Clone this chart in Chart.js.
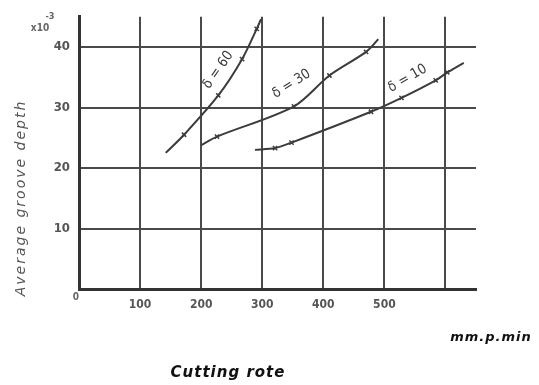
<!DOCTYPE html>
<html>
<head>
<meta charset="utf-8">
<script src="https://cdn.jsdelivr.net/npm/chart.js@4"></script>
<style>
  html, body { margin: 0; padding: 0; background: #fff; }
  #wrap { width: 539px; height: 385px; }
</style>
</head>
<body>
<div id="wrap"><canvas id="grooveChart"></canvas></div>
<script>
// values (cutting rate mm/min, groove depth x10^-3)
const delta60X = [142, 172, 228, 267, 291, 298];
const delta60Y = [22.5, 25.5, 32, 38, 43, 44.6];
const delta30X = [200, 226, 352, 410, 470, 490];
const delta30Y = [23.8, 25.2, 30.2, 35.3, 39.2, 41.3];
const delta10X = [288, 321, 348, 478, 528, 584, 603, 630];
const delta10Y = [23, 23.3, 24.2, 29.3, 31.6, 34.5, 35.8, 37.4];
const seriesNames = ['δ = 60', 'δ = 30', 'δ = 10'];
const xTicks = [0, 100, 200, 300, 400, 500, 600];
const yTicks = [0, 10, 20, 30, 40];

const ink = '#3c3c3c';

function toPoints(xs, ys) {
    return xs.map((x, i) => ({ x: x, y: ys[i] }));
}

// first and last point are only where the pen started/stopped
function markerRadius(ctx) {
    const n = ctx.dataset.data.length;
    return (ctx.dataIndex === 0 || ctx.dataIndex === n - 1) ? 0 : 3;
}

function makeSeries(name, xs, ys) {
    return {
        label: name,
        data: toPoints(xs, ys),
        borderColor: ink,
        backgroundColor: ink,
        borderWidth: 2,
        pointStyle: 'crossRot',
        pointRadius: markerRadius,
        pointBorderWidth: 1.5,
        tension: 0.3,
        fill: false
    };
}

// curve labels, placed in data units
const curveLabels = [
    { text: 'δ = 60', x: 228, y: 36.2, angle: -55 },
    { text: 'δ = 30', x: 348, y: 33.9, angle: -32 },
    { text: 'δ = 10', x: 538, y: 34.8, angle: -30 }
];

const textPlugin = {
    id: 'scanText',
    afterDraw(chart) {
        const c = chart.ctx;
        const xs = chart.scales.x;
        const ys = chart.scales.y;
        c.save();
        c.fillStyle = ink;
        c.textAlign = 'center';
        c.textBaseline = 'middle';

        c.font = '14px "DejaVu Sans Condensed", "DejaVu Sans"';
        curveLabels.forEach(l => {
            c.save();
            c.translate(xs.getPixelForValue(l.x), ys.getPixelForValue(l.y));
            c.rotate(l.angle * Math.PI / 180);
            c.fillText(l.text, 0, 0);
            c.restore();
        });

        // zero at the corner
        c.fillStyle = '#666';
        c.font = 'bold 10px "DejaVu Sans Condensed", "DejaVu Sans"';
        c.fillText('0', xs.getPixelForValue(0) - 3, ys.getPixelForValue(0) + 8);

        // multiplier
        c.fillText('x10', 40, 28);
        c.font = 'bold 9px "DejaVu Sans Condensed", "DejaVu Sans"';
        c.fillText('-3', 50, 17);

        // axis titles
        c.fillStyle = '#111';
        c.letterSpacing = '1px';
        c.font = 'italic bold 13px "DejaVu Sans", sans-serif';
        c.fillText('mm.p.min', 491, 338);
        c.font = 'italic bold 15px "DejaVu Sans", sans-serif';
        c.fillText('Cutting rote', 228, 373);

        c.save();
        c.fillStyle = '#555';
        c.translate(21, 198);
        c.rotate(-Math.PI / 2);
        c.letterSpacing = '2px';
        c.font = 'italic 14px "DejaVu Sans", sans-serif';
        c.fillText('Average groove depth', 0, 0);
        c.restore();

        c.restore();
    }
};

new Chart(document.getElementById('grooveChart').getContext('2d'), {
    type: 'line',
    data: {
        datasets: [
            makeSeries(seriesNames[0], delta60X, delta60Y),
            makeSeries(seriesNames[1], delta30X, delta30Y),
            makeSeries(seriesNames[2], delta10X, delta10Y)
        ]
    },
    options: {
        responsive: true,
        maintainAspectRatio: false,
        animation: false,
        layout: { padding: { top: 15, right: 63, left: 0, bottom: 0 } },
        plugins: {
            legend: { display: false },
            tooltip: { enabled: false }
        },
        scales: {
            x: {
                type: 'linear',
                min: 0,
                max: 650,
                afterBuildTicks: axis => { axis.ticks = xTicks.map(v => ({ value: v })); },
                afterFit: scale => { scale.height = 96; },
                grid: { color: '#4a4a4a', lineWidth: 2, drawTicks: false },
                border: { color: '#333', width: 3 },
                ticks: {
                    padding: 9,
                    color: '#555',
                    font: { family: '"DejaVu Sans Condensed", "DejaVu Sans"', size: 12, weight: 'bold' },
                    callback: v => (v === 0 || v === 600) ? '' : String(v)
                }
            },
            y: {
                type: 'linear',
                min: 0,
                max: 45,
                afterBuildTicks: axis => { axis.ticks = yTicks.map(v => ({ value: v })); },
                afterFit: scale => { scale.width = 79; },
                grid: { color: '#4a4a4a', lineWidth: 2, drawTicks: false },
                border: { color: '#333', width: 3 },
                ticks: {
                    padding: 9,
                    color: '#555',
                    font: { family: '"DejaVu Sans Condensed", "DejaVu Sans"', size: 13, weight: 'bold' },
                    callback: v => v === 0 ? '' : String(v)
                }
            }
        }
    },
    plugins: [textPlugin]
});
</script>
</body>
</html>
